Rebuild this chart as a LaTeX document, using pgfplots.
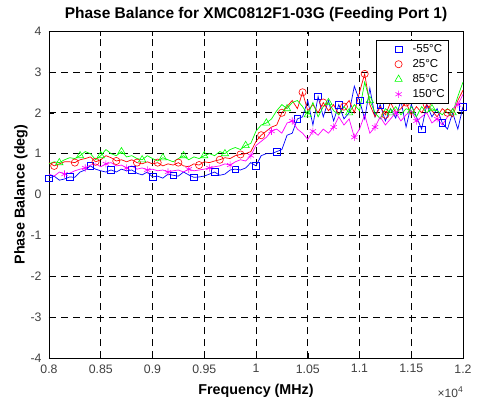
\documentclass[border=0pt]{standalone}
\usepackage{pgfplots}
\pgfplotsset{compat=1.18}
\usepackage{pgfplotstable}
\usepackage{fontspec}
\setmainfont{Liberation Sans}
\definecolor{mblue}{RGB}{0,0,255}
\definecolor{mred}{RGB}{255,0,0}
\definecolor{mgreen}{RGB}{0,255,0}
\definecolor{mmag}{RGB}{255,0,255}
\definecolor{tickgray}{RGB}{64,64,64}

\pgfplotstableread{
f v
8000 0.40
8050 0.45
8100 0.35
8150 0.38
8200 0.43
8250 0.42
8300 0.55
8350 0.60
8400 0.70
8450 0.62
8500 0.58
8550 0.55
8600 0.60
8650 0.55
8700 0.62
8750 0.58
8800 0.60
8850 0.52
8900 0.48
8950 0.55
9000 0.43
9050 0.45
9100 0.40
9150 0.50
9200 0.47
9250 0.45
9300 0.55
9350 0.48
9400 0.42
9450 0.43
9500 0.45
9550 0.50
9600 0.55
9650 0.47
9700 0.50
9750 0.60
9800 0.62
9850 0.60
9900 0.65
9950 0.78
10000 0.70
10050 0.95
10100 1.00
10150 1.00
10200 1.05
10250 1.10
10300 1.45
10350 1.50
10400 1.85
10450 1.90
10500 2.30
10550 1.70
10600 2.40
10650 1.90
10700 2.30
10750 1.80
10800 2.20
10850 1.85
10900 2.00
10950 2.65
11000 2.30
11050 1.85
11100 2.60
11150 1.90
11200 2.20
11250 1.80
11300 2.10
11350 1.87
11400 2.30
11450 1.65
11500 2.20
11550 1.90
11600 1.60
11650 2.20
11700 1.90
11750 2.10
11800 1.75
11850 1.60
11900 2.00
11950 1.60
12000 2.15
}\tblue

\pgfplotstableread{
f v
8000 0.78
8050 0.70
8100 0.75
8150 0.80
8200 0.80
8250 0.78
8300 0.85
8350 0.88
8400 0.92
8450 0.80
8500 0.85
8550 0.95
8600 0.90
8650 0.82
8700 0.85
8750 0.80
8800 0.85
8850 0.78
8900 0.75
8950 0.80
9000 0.75
9050 0.78
9100 0.70
9150 0.75
9200 0.72
9250 0.78
9300 0.70
9350 0.68
9400 0.75
9450 0.72
9500 0.80
9550 0.78
9600 0.82
9650 0.85
9700 0.90
9750 0.88
9800 0.95
9850 0.98
9900 1.00
9950 1.05
10000 1.30
10050 1.45
10100 1.55
10150 1.65
10200 1.70
10250 2.00
10300 2.15
10350 2.30
10400 2.10
10450 2.50
10500 2.05
10550 2.20
10600 2.00
10650 2.25
10700 2.05
10750 2.20
10800 1.95
10850 2.15
10900 2.30
10950 2.00
11000 2.50
11050 2.95
11100 2.20
11150 1.90
11200 2.15
11250 1.95
11300 2.25
11350 2.00
11400 2.10
11450 2.25
11500 1.95
11550 2.15
11600 2.00
11650 2.20
11700 2.05
11750 1.90
11800 2.10
11850 2.00
11900 1.90
11950 2.30
12000 2.55
}\tred

\pgfplotstableread{
f v
8000 0.75
8050 0.80
8100 0.78
8150 0.85
8200 0.90
8250 0.88
8300 0.95
8350 1.05
8400 1.00
8450 0.85
8500 0.95
8550 1.10
8600 1.00
8650 0.95
8700 1.05
8750 0.92
8800 0.95
8850 0.88
8900 0.85
8950 0.95
9000 0.88
9050 0.82
9100 0.90
9150 0.85
9200 0.80
9250 0.88
9300 0.95
9350 0.85
9400 0.92
9450 0.88
9500 0.95
9550 1.00
9600 0.95
9650 1.05
9700 1.00
9750 1.10
9800 1.15
9850 1.10
9900 1.20
9950 1.25
10000 1.55
10050 1.70
10100 1.75
10150 1.85
10200 2.05
10250 2.20
10300 2.10
10350 2.25
10400 2.30
10450 2.15
10500 1.95
10550 2.25
10600 1.90
10650 2.15
10700 2.25
10750 2.05
10800 1.95
10850 2.15
10900 2.00
10950 2.20
11000 2.05
11050 2.75
11100 2.30
11150 2.00
11200 1.85
11250 2.10
11300 2.00
11350 2.15
11400 1.95
11450 2.10
11500 2.05
11550 1.90
11600 2.15
11650 2.00
11700 2.10
11750 2.05
11800 1.95
11850 2.10
11900 2.00
11950 2.40
12000 2.75
}\tgreen

\pgfplotstableread{
f v
8000 0.50
8050 0.45
8100 0.55
8150 0.50
8200 0.52
8250 0.58
8300 0.62
8350 0.65
8400 0.72
8450 0.75
8500 0.68
8550 0.75
8600 0.78
8650 0.70
8700 0.72
8750 0.65
8800 0.70
8850 0.62
8900 0.65
8950 0.60
9000 0.62
9050 0.58
9100 0.60
9150 0.55
9200 0.58
9250 0.60
9300 0.55
9350 0.62
9400 0.58
9450 0.60
9500 0.62
9550 0.65
9600 0.68
9650 0.70
9700 0.75
9750 0.72
9800 0.80
9850 0.85
9900 0.82
9950 0.95
10000 1.20
10050 1.30
10100 1.40
10150 1.55
10200 1.60
10250 1.50
10300 1.75
10350 1.80
10400 1.60
10450 1.50
10500 1.35
10550 1.55
10600 1.45
10650 1.60
10700 1.50
10750 1.65
10800 1.90
10850 1.70
10900 1.85
10950 1.40
11000 1.60
11050 1.95
11100 1.50
11150 1.65
11200 1.90
11250 1.70
11300 1.85
11350 2.00
11400 1.80
11450 1.95
11500 2.05
11550 1.80
11600 1.90
11650 2.00
11700 1.75
11750 1.85
11800 1.70
11850 1.90
11900 2.10
11950 2.20
12000 2.45
}\tmag

\begin{document}
\begin{tikzpicture}[x=1pt,y=1pt]
\path[use as bounding box] (0,0) rectangle (482,400);
\begin{axis}[
  at={(49pt,42pt)}, anchor=south west,
  scale only axis, width=414pt, height=327pt,
  xmin=8000, xmax=12000, ymin=-4, ymax=4,
  scaled x ticks=false,
  xtick={8000,8500,...,12000}, ytick={-4,-3,...,4},
  xticklabels={0.8,0.85,0.9,0.95,1,1.05,1.1,1.15,1.2},
  yticklabels={-4,-3,-2,-1,0,1,2,3,4},
  tick label style={font=\fontsize{12.3}{13}\selectfont, text=tickgray},
  xticklabel style={yshift=-3pt},
  yticklabel style={xshift=-4pt},
  tick align=inside, major tick length=5pt,
  tick style={black, line width=0.5pt},
  grid=major,
  major grid style={black, line width=0.6pt, dash pattern=on 7pt off 5pt},
  axis line style={black, line width=0.6pt},
  title={Phase Balance for XMC0812F1-03G (Feeding Port 1)},
  title style={font=\bfseries\fontsize{15.5}{17}\selectfont, yshift=0pt},
  xlabel={Frequency (MHz)},
  ylabel={Phase Balance (deg)},
  label style={font=\bfseries\fontsize{14.3}{16}\selectfont},
  xlabel style={yshift=-4pt},
  ylabel style={yshift=-4pt},
  legend style={at={(0.966,0.972)}, anchor=north east, draw=black, line width=0.5pt,
    font=\fontsize{11.5}{13}\selectfont, row sep=1.5pt, inner xsep=2pt, inner ysep=2pt},
  legend cell align=left,
  legend image code/.code={\path[draw=none,fill=none] (0pt,0pt) -- (32pt,0pt); \draw[#1] plot[only marks, mark repeat=1, mark phase=1] coordinates {(20pt,0pt)};},
  every axis plot/.append style={line width=0.7pt, mark repeat=4, mark options={solid, fill=none, line width=0.6pt}},
]
\addplot[color=mblue, mark=square, mark size=3.3pt] table[x=f,y=v] {\tblue};
\addlegendentry{-55°C}
\addplot[color=mred, mark=o, mark size=3.6pt, mark phase=2] table[x=f,y=v] {\tred};
\addlegendentry{25°C}
\addplot[color=mgreen, mark=triangle, mark size=4.2pt, mark phase=3] table[x=f,y=v] {\tgreen};
\addlegendentry{85°C}
\addplot[color=mmag, mark=asterisk, mark size=3.6pt, mark phase=4] table[x=f,y=v] {\tmag};
\addlegendentry{150°C}
\coordinate (se) at (rel axis cs:1,0);
\end{axis}
\node[anchor=north east, font=\fontsize{12}{13}\selectfont, text=tickgray, inner sep=0pt] at ([yshift=-28pt]se) {×10\raisebox{0.45em}{\fontsize{8.5}{9}\selectfont 4}};
\end{tikzpicture}
\end{document}
